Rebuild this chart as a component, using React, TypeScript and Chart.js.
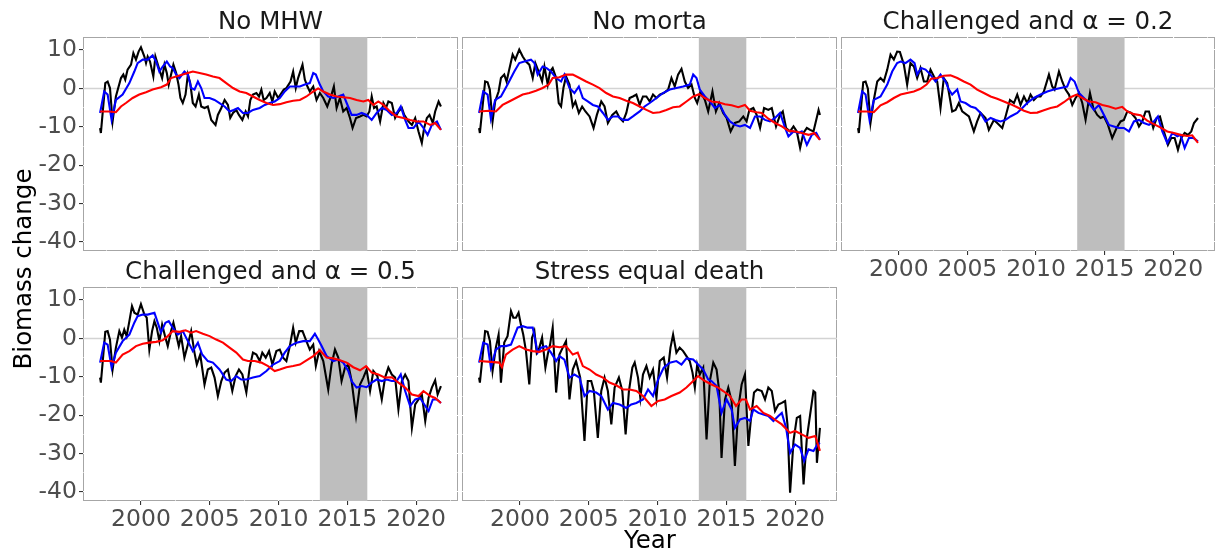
import React, { useEffect, useRef } from "react";
import { Chart, registerables } from "chart.js";

Chart.register(...registerables);

type Pt = [number, number];

// Scenario facet titles
const scenarioTitles = [
  "No MHW",
  "No morta",
  "Challenged and α = 0.2",
  "Challenged and α = 0.5",
  "Stress equal death",
];

// Axis ticks and ranges
const yearTicks = [2000, 2005, 2010, 2015, 2020];
const yearMinorTicks = [1997.5, 2002.5, 2007.5, 2012.5, 2017.5, 2022.5];
const biomassTicks = [-40, -30, -20, -10, 0, 10];
const biomassMinorTicks = [-35, -25, -15, -5, 5];
const yearRange = [1995.79, 2023.04];
const biomassRange = [-42.34, 13.39];
// Marine heatwave period (shaded)
const heatwavePeriod = [2013.0, 2016.45];

// ---- No MHW ----
const noMhwMonthly: Pt[] = [
  [1997.03, -10.3], [1997.09, -11.6], [1997.41, 1.4], [1997.58, 1.8], [1997.75, 0.1], [1997.94, -8.6], [1998.18, -2.1], [1998.55, 2.7], [1998.72, 3.6], [1998.86, 2.3],
  [1999.03, 4.9], [1999.28, 6.2], [1999.45, 9.2], [1999.64, 7.5], [1999.83, 9.6], [2000.0, 10.7], [2000.25, 8.3], [2000.37, 6.6], [2000.49, 8.3], [2000.66, 7.0],
  [2000.9, 3.1], [2001.05, 8.3], [2001.34, 4.9], [2001.54, 2.7], [2001.71, 6.2], [2001.88, 4.0], [2002.02, 1.0], [2002.19, 3.6], [2002.36, 6.2], [2002.56, 4.0],
  [2002.73, 1.0], [2002.87, -2.5], [2003.04, -3.8], [2003.24, -1.6], [2003.41, 3.6], [2003.58, 1.4], [2003.77, -3.8], [2003.97, -4.7], [2004.21, -1.6], [2004.38, -4.7],
  [2004.62, -5.1], [2004.86, -4.7], [2005.11, -8.2], [2005.42, -9.5], [2005.59, -6.9], [2005.84, -5.1], [2006.08, -3.0], [2006.32, -4.3], [2006.49, -7.7], [2006.69, -6.4],
  [2006.93, -5.6], [2007.12, -6.9], [2007.37, -8.2], [2007.61, -6.0], [2007.78, -7.3], [2007.95, -3.0], [2008.14, -1.6], [2008.39, -1.2], [2008.58, -2.1], [2008.75, -0.3],
  [2008.92, -3.0], [2009.12, -2.5], [2009.36, -1.2], [2009.55, -3.4], [2009.72, -0.8], [2009.97, -2.5], [2010.21, -1.2], [2010.38, -0.3], [2010.57, 0.1], [2010.87, 1.8],
  [2011.06, 4.4], [2011.25, 0.1], [2011.42, 2.7], [2011.74, 6.2], [2011.91, 2.3], [2012.1, 0.5], [2012.27, -0.8], [2012.52, 0.5], [2012.76, -3.0], [2013.0, -1.2],
  [2013.25, -2.5], [2013.54, -4.7], [2013.85, -1.6], [2014.02, 0.5], [2014.22, -5.1], [2014.46, -2.5], [2014.7, -6.0], [2014.95, -5.1], [2015.19, -7.7], [2015.38, -10.3],
  [2015.63, -7.7], [2015.92, -7.3], [2016.16, -6.9], [2016.4, -7.3], [2016.6, -6.0], [2016.77, -2.1], [2016.94, -5.1], [2017.13, -4.7], [2017.38, -8.6], [2017.62, -3.8],
  [2017.81, -5.1], [2017.98, -3.4], [2018.23, -3.8], [2018.47, -7.7], [2018.71, -6.0], [2018.96, -5.1], [2019.13, -6.9], [2019.44, -8.6], [2019.69, -9.5], [2019.93, -7.7],
  [2020.17, -11.2], [2020.41, -14.2], [2020.58, -10.3], [2020.78, -7.7], [2020.97, -6.9], [2021.21, -9.0], [2021.38, -6.0], [2021.63, -3.4], [2021.8, -4.7],
];
const noMhwAnnual: Pt[] = [
  [1997.03, -6.4], [1997.33, -0.8], [1997.58, -1.6], [1997.87, -8.2], [1998.18, -3.0], [1998.67, -1.6], [1999.16, 1.4], [1999.52, 4.4], [1999.76, 6.6], [2000.13, 7.5],
  [2000.49, 7.5], [2000.85, 8.6], [2001.1, 7.0], [2001.34, 4.4], [2001.58, 5.7], [2001.88, 7.0], [2002.12, 5.7], [2002.31, 5.3], [2002.56, 3.6], [2002.8, 2.7],
  [2003.16, 4.4], [2003.41, 3.6], [2003.65, 0.1], [2003.89, -0.3], [2004.14, 1.8], [2004.38, 0.1], [2004.62, -2.5], [2004.99, -2.5], [2005.35, -3.0], [2005.71, -3.8],
  [2006.08, -4.7], [2006.44, -6.0], [2006.74, -5.6], [2007.05, -5.1], [2007.41, -6.4], [2007.78, -6.4], [2008.14, -5.6], [2008.63, -5.1], [2009.0, -4.3], [2009.36, -3.8],
  [2009.72, -3.4], [2010.09, -2.5], [2010.45, -0.8], [2010.82, 0.5], [2011.18, 0.5], [2011.55, 0.5], [2011.91, 1.0], [2012.27, 1.4], [2012.52, 4.0], [2012.71, 3.6],
  [2013.0, 1.0], [2013.25, -0.8], [2013.61, -2.1], [2013.98, -2.5], [2014.34, -2.1], [2014.7, -1.6], [2014.95, -3.8], [2015.31, -6.9], [2015.67, -6.9], [2016.04, -6.4],
  [2016.4, -6.9], [2016.77, -8.2], [2017.13, -6.4], [2017.5, -5.1], [2017.86, -5.6], [2018.23, -6.9], [2018.59, -6.4], [2018.88, -4.7], [2019.2, -8.2], [2019.44, -10.3],
  [2019.81, -10.3], [2020.17, -8.6], [2020.53, -10.3], [2020.83, -12.1], [2021.14, -9.5], [2021.51, -8.6], [2021.8, -10.8],
];
const noMhwTrend: Pt[] = [
  [1997.03, -6.0], [1997.7, -6.0], [1998.18, -6.2], [1998.55, -4.7], [1998.91, -3.8], [1999.4, -2.5], [1999.88, -1.6], [2000.37, -1.0], [2000.85, -0.3], [2001.46, 0.3],
  [2001.88, 1.0], [2002.19, 2.7], [2002.56, 3.1], [2003.04, 3.6], [2003.41, 4.0], [2003.77, 4.4], [2004.26, 4.0], [2004.74, 3.6], [2005.23, 3.1], [2005.71, 2.7],
  [2006.2, 1.4], [2006.69, 0.1], [2007.17, -0.8], [2007.66, -1.2], [2008.14, -2.1], [2008.63, -3.0], [2009.12, -3.8], [2009.6, -4.3], [2010.09, -4.1], [2010.57, -3.6],
  [2011.06, -3.2], [2011.55, -3.0], [2012.03, -2.1], [2012.52, -0.8], [2012.88, 0.0], [2013.25, -0.8], [2013.73, -1.6], [2014.22, -2.1], [2014.7, -2.3], [2015.19, -2.5],
  [2015.67, -3.0], [2016.16, -3.4], [2016.52, -3.0], [2016.89, -4.3], [2017.25, -3.4], [2017.62, -4.3], [2018.1, -6.0], [2018.59, -7.3], [2019.08, -7.7], [2019.56, -8.2],
  [2020.05, -8.6], [2020.53, -8.6], [2021.02, -9.5], [2021.38, -9.0], [2021.8, -10.8],
];

// ---- No morta ----
const noMortaMonthly: Pt[] = [
  [1997.03, -10.3], [1997.09, -11.6], [1997.47, 1.8], [1997.65, 1.6], [1997.81, -0.3], [1998.01, -8.6], [1998.2, -3.4], [1998.45, -0.8], [1998.62, 2.7], [1998.86, 3.6],
  [1999.03, 1.8], [1999.22, 4.9], [1999.47, 8.8], [1999.66, 7.5], [1999.95, 10.1], [2000.2, 8.3], [2000.44, 7.0], [2000.68, 6.2], [2000.93, 2.7], [2001.12, 6.6],
  [2001.36, 4.4], [2001.61, 1.8], [2001.78, 5.7], [2002.02, 1.0], [2002.19, 4.4], [2002.38, 5.3], [2002.63, 2.7], [2002.82, -3.8], [2002.99, -4.7], [2003.16, 0.1],
  [2003.35, 3.1], [2003.6, 1.0], [2003.84, -4.7], [2004.03, -3.4], [2004.28, -6.4], [2004.52, -4.7], [2004.76, -6.0], [2005.06, -7.3], [2005.35, -10.3], [2005.59, -6.9],
  [2005.91, -3.4], [2006.15, -4.7], [2006.39, -9.0], [2006.71, -6.9], [2007.0, -6.0], [2007.24, -7.7], [2007.49, -8.6], [2007.73, -6.4], [2007.97, -2.5], [2008.21, -2.1],
  [2008.46, -1.6], [2008.7, -4.3], [2008.94, -2.1], [2009.19, -2.1], [2009.43, -3.4], [2009.67, -1.6], [2009.92, -2.5], [2010.16, -1.6], [2010.45, -1.2], [2010.77, -0.3],
  [2011.01, 2.7], [2011.25, 0.5], [2011.49, 3.6], [2011.74, 5.1], [2011.98, 1.8], [2012.22, 0.1], [2012.47, 1.0], [2012.71, -2.5], [2012.88, -3.8], [2013.12, -0.8],
  [2013.44, -3.0], [2013.68, -6.0], [2013.99, -0.8], [2014.24, -6.0], [2014.48, -3.8], [2014.77, -6.4], [2015.02, -7.7], [2015.31, -11.2], [2015.62, -9.0], [2015.94, -8.6],
  [2016.23, -7.3], [2016.47, -8.6], [2016.67, -5.6], [2016.96, -5.1], [2017.2, -6.9], [2017.45, -10.3], [2017.74, -5.1], [2018.05, -5.6], [2018.3, -5.1], [2018.61, -9.9],
  [2018.9, -6.9], [2019.1, -6.0], [2019.34, -10.3], [2019.63, -11.2], [2019.88, -9.9], [2020.12, -11.2], [2020.36, -15.5], [2020.6, -11.6], [2020.85, -10.3], [2021.09, -10.8],
  [2021.33, -11.2], [2021.53, -8.2], [2021.7, -5.6], [2021.8, -6.9],
];
const noMortaAnnual: Pt[] = [
  [1997.03, -6.4], [1997.33, -0.8], [1997.65, -1.6], [1997.89, -7.9], [1998.2, -3.0], [1998.62, -2.1], [1999.1, 1.0], [1999.59, 4.4], [1999.95, 6.6], [2000.32, 7.0],
  [2000.8, 7.5], [2001.05, 6.6], [2001.29, 3.6], [2001.65, 5.7], [2001.94, 5.3], [2002.26, 4.4], [2002.63, 2.7], [2002.99, 1.8], [2003.23, 3.6], [2003.6, 0.1],
  [2003.96, -1.2], [2004.28, 0.5], [2004.57, -2.5], [2004.93, -3.4], [2005.3, -4.3], [2005.66, -4.7], [2006.03, -6.4], [2006.39, -8.2], [2006.76, -7.3], [2007.12, -7.3],
  [2007.49, -8.2], [2007.85, -8.2], [2008.21, -7.3], [2008.7, -6.0], [2009.06, -4.7], [2009.43, -3.8], [2009.92, -2.5], [2010.4, -1.2], [2010.89, -0.3], [2011.37, 0.1],
  [2011.86, 0.5], [2012.34, 1.0], [2012.59, 3.6], [2012.83, 2.7], [2013.07, -0.3], [2013.44, -2.1], [2013.8, -3.4], [2014.17, -5.1], [2014.53, -4.3], [2014.9, -6.9],
  [2015.26, -8.6], [2015.62, -9.5], [2015.99, -9.9], [2016.35, -9.5], [2016.72, -10.3], [2017.08, -7.3], [2017.45, -7.3], [2017.81, -8.2], [2018.17, -8.6], [2018.54, -7.7],
  [2018.9, -6.4], [2019.27, -10.3], [2019.51, -12.5], [2019.88, -11.2], [2020.24, -11.6], [2020.48, -11.2], [2020.85, -14.7], [2021.21, -12.1], [2021.53, -11.6], [2021.8, -13.4],
];
const noMortaTrend: Pt[] = [
  [1997.03, -6.0], [1997.77, -5.8], [1998.25, -6.0], [1998.74, -4.3], [1999.22, -3.4], [1999.71, -2.5], [2000.2, -1.6], [2000.68, -1.2], [2001.17, -0.6], [2001.65, 0.1],
  [2002.09, 1.0], [2002.38, 2.7], [2002.87, 2.9], [2003.35, 3.6], [2003.84, 3.6], [2004.33, 2.7], [2004.81, 1.8], [2005.3, 1.0], [2005.78, 0.1], [2006.27, -1.2],
  [2006.76, -2.1], [2007.24, -2.5], [2007.73, -3.2], [2008.21, -3.8], [2008.7, -4.7], [2009.19, -5.6], [2009.67, -6.4], [2010.16, -6.2], [2010.64, -5.6], [2011.13, -4.9],
  [2011.61, -4.7], [2012.1, -3.4], [2012.59, -2.1], [2013.02, -1.5], [2013.44, -2.5], [2013.92, -3.4], [2014.41, -3.6], [2014.9, -4.1], [2015.38, -4.4], [2015.87, -4.9],
  [2016.35, -4.3], [2016.72, -5.8], [2017.2, -6.2], [2017.57, -6.4], [2018.05, -7.9], [2018.54, -9.0], [2019.03, -9.9], [2019.51, -11.0], [2020.0, -11.2], [2020.48, -11.6],
  [2020.97, -12.1], [2021.38, -11.6], [2021.8, -13.4],
];

// ---- Challenged and alpha = 0.2 ----
const alpha02Monthly: Pt[] = [
  [1997.03, -10.3], [1997.09, -11.6], [1997.41, 1.6], [1997.58, 1.8], [1997.75, -0.1], [1997.94, -9.0], [1998.18, -3.0], [1998.43, 1.8], [1998.67, 2.7], [1998.91, 1.8],
  [1999.16, 4.9], [1999.4, 8.8], [1999.64, 7.5], [1999.88, 9.6], [2000.08, 9.5], [2000.37, 6.2], [2000.61, 1.0], [2000.85, 6.6], [2001.1, 5.7], [2001.34, 2.7],
  [2001.58, 5.3], [2001.83, 1.8], [2002.07, 1.8], [2002.31, 4.9], [2002.56, 3.1], [2002.8, 1.8], [2003.04, -5.1], [2003.28, 2.7], [2003.53, 1.4], [2003.89, -6.0],
  [2004.14, -5.6], [2004.38, -3.8], [2004.62, -6.0], [2005.11, -7.3], [2005.47, -11.2], [2005.71, -8.6], [2005.96, -6.4], [2006.32, -7.7], [2006.56, -10.8], [2006.93, -8.2],
  [2007.17, -9.0], [2007.54, -10.3], [2007.78, -7.3], [2008.1, -3.0], [2008.39, -3.8], [2008.63, -1.6], [2008.87, -4.3], [2009.12, -2.1], [2009.36, -3.8], [2009.6, -1.6],
  [2009.84, -3.0], [2010.09, -2.1], [2010.33, -2.1], [2010.57, -0.8], [2010.94, 3.6], [2011.18, 0.5], [2011.35, -0.3], [2011.67, 4.4], [2011.91, 1.8], [2012.15, -0.3],
  [2012.4, -1.6], [2012.64, -4.3], [2012.88, -2.5], [2013.13, -1.2], [2013.37, -3.8], [2013.61, -8.2], [2013.93, -1.2], [2014.17, -5.1], [2014.46, -6.9], [2014.7, -7.7],
  [2014.95, -7.3], [2015.24, -9.5], [2015.55, -12.9], [2015.87, -10.3], [2016.16, -8.6], [2016.4, -8.2], [2016.65, -6.0], [2016.94, -6.4], [2017.25, -7.7], [2017.5, -9.9],
  [2017.74, -8.6], [2017.98, -6.0], [2018.23, -6.0], [2018.54, -10.3], [2018.79, -7.7], [2019.03, -7.3], [2019.32, -11.2], [2019.61, -14.7], [2019.85, -12.9], [2020.1, -12.9],
  [2020.34, -16.0], [2020.58, -12.9], [2020.83, -11.6], [2021.07, -12.1], [2021.31, -11.2], [2021.51, -9.0], [2021.8, -7.7],
];
const alpha02Annual: Pt[] = [
  [1997.03, -6.4], [1997.33, -0.8], [1997.58, -1.6], [1997.87, -8.2], [1998.18, -3.0], [1998.67, -2.1], [1999.16, 1.0], [1999.52, 4.4], [1999.88, 6.6], [2000.13, 7.0],
  [2000.49, 6.6], [2000.85, 7.5], [2001.15, 6.6], [2001.34, 3.6], [2001.63, 5.3], [2001.95, 4.9], [2002.31, 3.6], [2002.68, 1.8], [2003.04, 3.6], [2003.41, 1.8],
  [2003.65, -0.3], [2003.89, -1.6], [2004.26, -0.3], [2004.5, -3.4], [2004.86, -3.8], [2005.23, -4.7], [2005.59, -5.1], [2005.96, -6.4], [2006.32, -8.6], [2006.69, -7.7],
  [2007.05, -8.2], [2007.41, -8.6], [2007.78, -8.2], [2008.14, -7.3], [2008.63, -6.4], [2009.0, -5.1], [2009.36, -3.8], [2009.84, -2.5], [2010.33, -1.6], [2010.82, -0.8],
  [2011.3, -0.3], [2011.79, 0.1], [2012.27, 0.5], [2012.52, 2.7], [2012.81, 1.8], [2013.13, -1.2], [2013.49, -2.5], [2013.85, -3.8], [2014.22, -5.6], [2014.58, -4.3],
  [2014.95, -6.9], [2015.31, -9.5], [2015.67, -9.9], [2016.04, -10.3], [2016.4, -10.3], [2016.77, -11.2], [2017.13, -8.6], [2017.5, -8.2], [2017.86, -9.0], [2018.23, -9.5],
  [2018.59, -8.6], [2018.88, -7.3], [2019.2, -11.2], [2019.56, -14.2], [2019.93, -11.6], [2020.29, -12.5], [2020.53, -12.1], [2020.83, -15.5], [2021.14, -12.9], [2021.46, -12.9],
  [2021.8, -13.8],
];
const alpha02Trend: Pt[] = [
  [1997.03, -6.0], [1997.7, -6.0], [1998.18, -6.2], [1998.67, -4.4], [1999.16, -3.6], [1999.64, -2.5], [2000.13, -1.6], [2000.61, -1.2], [2001.1, -0.8], [2001.58, -0.1],
  [2002.02, 1.0], [2002.36, 2.5], [2002.8, 2.7], [2003.28, 3.3], [2003.77, 3.4], [2004.26, 2.7], [2004.74, 1.8], [2005.23, 1.0], [2005.71, -0.3], [2006.2, -1.2],
  [2006.69, -2.1], [2007.17, -2.7], [2007.66, -3.4], [2008.14, -4.1], [2008.63, -4.9], [2009.12, -5.8], [2009.6, -6.4], [2010.09, -6.3], [2010.57, -5.7], [2011.06, -5.1],
  [2011.55, -4.7], [2012.03, -3.6], [2012.52, -2.3], [2012.95, -1.6], [2013.37, -2.5], [2013.85, -3.4], [2014.34, -3.6], [2014.83, -4.3], [2015.31, -4.7], [2015.8, -5.3],
  [2016.28, -4.8], [2016.65, -6.0], [2017.13, -6.7], [2017.62, -7.0], [2018.1, -8.4], [2018.59, -9.3], [2019.08, -10.2], [2019.56, -11.2], [2020.05, -11.6], [2020.53, -12.1],
  [2021.02, -12.4], [2021.38, -12.2], [2021.8, -14.2],
];

// ---- Challenged and alpha = 0.5 ----
const alpha05Monthly: Pt[] = [
  [1997.03, -10.2], [1997.09, -11.5], [1997.41, 1.7], [1997.58, 1.9], [1997.75, -0.3], [1997.94, -8.1], [1998.18, -2.4], [1998.43, 1.9], [1998.62, 0.2], [1998.79, 2.3],
  [1998.96, 0.6], [1999.16, 4.5], [1999.35, 8.4], [1999.52, 6.7], [1999.76, 6.2], [2000.0, 8.9], [2000.25, 6.2], [2000.42, 5.4], [2000.61, -2.9], [2000.81, 1.9],
  [2000.98, 4.5], [2001.15, 2.8], [2001.34, -0.7], [2001.54, 3.6], [2001.75, 0.6], [2001.95, -2.0], [2002.19, 1.9], [2002.36, 4.1], [2002.56, 1.0], [2002.75, -2.0],
  [2002.92, 0.6], [2003.16, -5.0], [2003.41, -1.6], [2003.65, 1.9], [2003.89, -3.7], [2004.06, -6.8], [2004.31, -4.2], [2004.62, -12.0], [2004.86, -8.1], [2005.11, -7.6],
  [2005.35, -10.2], [2005.59, -15.0], [2005.84, -11.1], [2006.08, -8.9], [2006.32, -8.1], [2006.64, -13.7], [2006.88, -9.8], [2007.12, -8.1], [2007.37, -9.4], [2007.66, -14.1],
  [2007.9, -7.6], [2008.14, -3.7], [2008.39, -4.2], [2008.63, -5.9], [2008.82, -3.7], [2009.07, -5.0], [2009.31, -3.3], [2009.55, -6.8], [2009.84, -3.3], [2010.09, -2.9],
  [2010.33, -5.0], [2010.57, -5.9], [2010.82, -2.0], [2011.06, 2.8], [2011.25, -1.1], [2011.5, 1.9], [2011.74, 1.9], [2011.98, -0.3], [2012.27, -2.9], [2012.52, -1.6],
  [2012.71, -7.2], [2012.95, -3.3], [2013.25, -5.9], [2013.61, -13.3], [2013.85, -6.8], [2014.1, -2.9], [2014.34, -5.0], [2014.58, -11.1], [2014.83, -7.6], [2015.07, -6.8],
  [2015.31, -11.1], [2015.63, -20.2], [2015.92, -12.0], [2016.16, -10.2], [2016.4, -8.1], [2016.65, -13.7], [2016.89, -8.5], [2017.18, -9.8], [2017.5, -15.9], [2017.74, -10.2],
  [2017.98, -7.6], [2018.23, -9.4], [2018.47, -10.2], [2018.71, -18.5], [2018.96, -11.1], [2019.2, -9.4], [2019.44, -11.1], [2019.69, -23.3], [2019.93, -17.2], [2020.17, -15.9],
  [2020.41, -14.6], [2020.66, -21.5], [2020.9, -15.5], [2021.14, -12.8], [2021.38, -10.9], [2021.56, -14.6], [2021.8, -12.4],
];
const alpha05Annual: Pt[] = [
  [1997.03, -6.3], [1997.33, -1.1], [1997.58, -1.6], [1997.87, -7.6], [1998.18, -3.7], [1998.67, -0.7], [1999.16, 1.0], [1999.52, 4.1], [1999.76, 5.8], [2000.13, 6.2],
  [2000.49, 6.2], [2000.98, 6.7], [2001.22, 4.1], [2001.46, 1.5], [2001.78, 4.1], [2002.02, 4.5], [2002.31, 2.8], [2002.68, 1.0], [2003.04, 1.9], [2003.41, -0.7],
  [2003.77, -3.3], [2004.14, -1.1], [2004.45, -4.2], [2004.86, -5.9], [2005.23, -6.3], [2005.71, -8.1], [2006.2, -10.7], [2006.56, -11.1], [2006.93, -9.8], [2007.29, -10.7],
  [2007.66, -10.7], [2008.14, -10.2], [2008.63, -9.8], [2009.12, -8.5], [2009.6, -6.8], [2010.09, -5.9], [2010.45, -3.7], [2010.82, -2.0], [2011.3, -1.1], [2011.79, -0.7],
  [2012.27, -0.7], [2012.64, 1.2], [2012.88, -0.3], [2013.13, -2.0], [2013.49, -4.6], [2013.98, -5.9], [2014.34, -5.5], [2014.7, -6.3], [2015.07, -8.5], [2015.31, -11.1],
  [2015.67, -12.8], [2016.04, -12.4], [2016.4, -12.7], [2016.77, -11.5], [2017.13, -10.7], [2017.5, -11.1], [2017.86, -10.7], [2018.23, -11.1], [2018.59, -11.1], [2018.88, -9.4],
  [2019.2, -13.7], [2019.56, -17.6], [2019.93, -15.9], [2020.29, -15.5], [2020.66, -17.6], [2020.9, -18.9], [2021.21, -15.9], [2021.51, -15.9], [2021.8, -16.8],
];
const alpha05Trend: Pt[] = [
  [1997.03, -5.9], [1997.82, -5.9], [1998.18, -6.3], [1998.67, -4.2], [1999.16, -3.3], [1999.64, -2.0], [2000.13, -1.4], [2000.61, -1.1], [2001.1, -0.9], [2001.58, -0.5],
  [2001.95, 0.6], [2002.31, 1.9], [2002.8, 1.7], [2003.24, 2.1], [2003.65, 1.5], [2004.01, 1.9], [2004.5, 1.2], [2004.99, 0.6], [2005.47, -0.3], [2005.96, -1.1],
  [2006.44, -2.4], [2006.93, -3.7], [2007.41, -5.5], [2007.78, -5.9], [2008.27, -5.9], [2008.75, -6.3], [2009.24, -7.2], [2009.72, -8.5], [2010.09, -8.1], [2010.57, -7.5],
  [2011.06, -7.2], [2011.55, -6.8], [2012.03, -5.7], [2012.52, -4.6], [2013.0, -3.1], [2013.49, -5.0], [2013.98, -5.2], [2014.46, -5.7], [2014.95, -6.3], [2015.43, -7.5],
  [2015.92, -8.3], [2016.36, -7.2], [2016.77, -8.9], [2017.25, -9.4], [2017.74, -10.2], [2018.23, -10.1], [2018.71, -11.5], [2019.2, -12.8], [2019.69, -14.6], [2020.17, -15.0],
  [2020.53, -13.7], [2021.02, -15.0], [2021.38, -15.5], [2021.8, -16.8],
];

// ---- Stress equal death ----
const stressMonthly: Pt[] = [
  [1997.03, -10.2], [1997.09, -11.5], [1997.47, 1.9], [1997.65, 1.7], [1997.82, -0.7], [1998.01, -8.5], [1998.25, -2.4], [1998.45, 1.0], [1998.62, -11.5], [1998.86, -1.1],
  [1999.1, 0.6], [1999.35, 7.1], [1999.52, 5.4], [1999.71, 5.4], [1999.9, 6.7], [2000.07, 3.6], [2000.24, 1.0], [2000.44, -3.3], [2000.68, -12.0], [2000.88, 0.2],
  [2001.05, 1.9], [2001.22, -3.7], [2001.41, -2.4], [2001.61, 0.2], [2001.85, -7.6], [2002.02, -4.2], [2002.19, -1.6], [2002.38, 2.8], [2002.63, -14.1], [2002.87, -4.2],
  [2003.11, -2.4], [2003.35, -0.7], [2003.6, -15.9], [2003.84, -8.1], [2004.08, -5.9], [2004.38, -10.2], [2004.69, -26.7], [2004.93, -11.1], [2005.18, -11.1], [2005.37, -13.7],
  [2005.66, -25.9], [2005.91, -13.7], [2006.15, -10.2], [2006.39, -13.7], [2006.64, -22.4], [2006.88, -12.8], [2007.19, -10.2], [2007.44, -13.7], [2007.68, -25.0], [2007.92, -13.7],
  [2008.17, -7.6], [2008.34, -6.3], [2008.58, -10.2], [2008.75, -15.5], [2008.94, -9.4], [2009.19, -7.2], [2009.43, -10.2], [2009.67, -8.1], [2009.92, -15.5], [2010.16, -5.9],
  [2010.45, -5.0], [2010.69, -10.2], [2010.94, -2.4], [2011.13, 1.0], [2011.37, -3.7], [2011.61, -2.4], [2011.86, -3.3], [2012.1, -4.6], [2012.34, -5.9], [2012.54, -8.9],
  [2012.71, -12.8], [2012.88, -6.8], [2013.07, -9.4], [2013.32, -7.6], [2013.56, -26.3], [2013.8, -11.1], [2014.05, -6.3], [2014.29, -8.1], [2014.48, -13.7], [2014.65, -31.1],
  [2014.9, -15.9], [2015.14, -12.8], [2015.38, -16.3], [2015.62, -33.2], [2015.87, -18.1], [2016.11, -12.0], [2016.35, -9.4], [2016.6, -28.0], [2016.77, -21.5], [2017.01, -14.1],
  [2017.25, -13.3], [2017.57, -13.7], [2017.81, -15.9], [2018.05, -12.8], [2018.3, -13.7], [2018.54, -18.9], [2018.78, -17.2], [2019.03, -16.8], [2019.27, -16.3], [2019.44, -22.4],
  [2019.63, -40.2], [2019.88, -26.7], [2020.12, -20.7], [2020.36, -20.2], [2020.61, -38.0], [2020.85, -25.9], [2021.09, -19.8], [2021.33, -13.7], [2021.46, -14.1], [2021.58, -32.4],
  [2021.8, -23.3],
];
const stressAnnual: Pt[] = [
  [1997.03, -6.3], [1997.33, -1.1], [1997.65, -1.6], [1997.89, -7.6], [1998.25, -2.9], [1998.62, -2.0], [1998.98, -2.0], [1999.35, -1.6], [1999.59, 0.6], [1999.83, 2.8],
  [2000.2, 3.2], [2000.56, 2.8], [2000.93, 2.8], [2001.29, -3.7], [2001.53, -2.4], [2001.9, -2.0], [2002.26, -3.7], [2002.63, -5.9], [2002.87, -4.6], [2003.23, -5.5],
  [2003.6, -10.2], [2003.96, -9.4], [2004.33, -10.2], [2004.69, -15.0], [2005.06, -13.7], [2005.54, -14.1], [2005.91, -15.0], [2006.39, -18.5], [2006.76, -16.8], [2007.24, -17.2],
  [2007.73, -18.1], [2008.09, -17.2], [2008.46, -16.8], [2008.94, -15.9], [2009.31, -13.3], [2009.67, -15.0], [2010.04, -10.7], [2010.45, -7.6], [2010.89, -6.3], [2011.37, -5.9],
  [2011.74, -6.8], [2012.1, -5.2], [2012.59, -5.5], [2012.95, -6.8], [2013.32, -8.1], [2013.68, -10.7], [2013.92, -11.1], [2014.29, -12.4], [2014.65, -19.4], [2015.02, -15.9],
  [2015.38, -18.5], [2015.62, -23.3], [2015.99, -21.1], [2016.35, -20.7], [2016.72, -21.5], [2016.96, -18.5], [2017.33, -19.4], [2017.69, -19.8], [2018.05, -20.2], [2018.42, -21.5],
  [2018.78, -20.2], [2019.03, -19.4], [2019.34, -23.3], [2019.63, -29.8], [2019.99, -27.6], [2020.36, -28.5], [2020.65, -31.9], [2020.97, -28.9], [2021.33, -29.3], [2021.62, -27.6],
  [2021.8, -27.2],
];
const stressTrend: Pt[] = [
  [1997.03, -5.9], [1997.89, -6.1], [1998.5, -6.3], [1998.69, -7.5], [1998.98, -4.2], [1999.47, -2.9], [1999.95, -2.0], [2000.44, -2.9], [2000.93, -3.3], [2001.41, -3.5],
  [2001.9, -2.9], [2002.38, -2.0], [2002.87, -2.3], [2003.35, -2.0], [2003.84, -4.2], [2004.2, -3.7], [2004.57, -7.2], [2005.06, -8.1], [2005.54, -9.4], [2006.03, -10.2],
  [2006.51, -11.5], [2007.0, -12.2], [2007.49, -13.3], [2007.97, -13.3], [2008.46, -13.7], [2008.94, -15.0], [2009.55, -17.6], [2010.04, -16.3], [2010.52, -15.9], [2011.01, -15.0],
  [2011.61, -14.1], [2012.1, -12.8], [2012.59, -11.1], [2012.95, -9.8], [2013.44, -11.1], [2013.92, -12.0], [2014.41, -12.8], [2014.77, -13.7], [2015.26, -15.0], [2015.7, -17.6],
  [2016.11, -15.9], [2016.42, -15.9], [2016.72, -18.5], [2017.2, -17.6], [2017.69, -19.4], [2018.17, -20.2], [2018.66, -21.5], [2019.03, -22.4], [2019.63, -24.6], [2019.99, -24.1],
  [2020.48, -25.0], [2020.97, -25.9], [2021.46, -25.4], [2021.8, -29.3],
];

const scenarioSeries = [
  { monthly: noMhwMonthly, annual: noMhwAnnual, trend: noMhwTrend },
  { monthly: noMortaMonthly, annual: noMortaAnnual, trend: noMortaTrend },
  { monthly: alpha02Monthly, annual: alpha02Annual, trend: alpha02Trend },
  { monthly: alpha05Monthly, annual: alpha05Annual, trend: alpha05Trend },
  { monthly: stressMonthly, annual: stressAnnual, trend: stressTrend },
];

// Facet placement on the page
const panelBoxes = [
  { left: 83, top: 37, right: 458, bottom: 251, yAxis: true, xAxis: false },
  { left: 462, top: 37, right: 837, bottom: 251, yAxis: false, xAxis: false },
  { left: 841, top: 37, right: 1215, bottom: 251, yAxis: false, xAxis: true },
  { left: 83, top: 287, right: 458, bottom: 501, yAxis: true, xAxis: true },
  { left: 462, top: 287, right: 837, bottom: 501, yAxis: false, xAxis: true },
];

const FONT = '"DejaVu Sans", Verdana, sans-serif';
const TICK_SIZE = 23.5;
const TITLE_SIZE = 24.5;

const toXY = (pts: Pt[]) => pts.map(([x, y]) => ({ x, y }));

const panelDecor = {
  id: "panelDecor",
  beforeDraw(chart: any) {
    const { ctx, chartArea: a } = chart;
    ctx.save();
    ctx.fillStyle = "#FFFFFF";
    ctx.fillRect(a.left, a.top, a.right - a.left, a.bottom - a.top);
    ctx.strokeStyle = "#A6A6A6";
    ctx.lineWidth = 1;
    ctx.strokeRect(a.left + 0.5, a.top + 0.5, a.right - a.left - 1, a.bottom - a.top - 1);
    ctx.restore();
  },
  beforeDatasetsDraw(chart: any) {
    const { ctx, chartArea: a, scales } = chart;
    ctx.save();
    const y0 = scales.y.getPixelForValue(0);
    ctx.strokeStyle = "#D3D3D3";
    ctx.lineWidth = 1.5;
    ctx.beginPath();
    ctx.moveTo(a.left, y0);
    ctx.lineTo(a.right, y0);
    ctx.stroke();
    const x1 = scales.x.getPixelForValue(heatwavePeriod[0]);
    const x2 = scales.x.getPixelForValue(heatwavePeriod[1]);
    ctx.fillStyle = "#BEBEBE";
    ctx.fillRect(x1, a.top, x2 - x1, a.bottom - a.top);
    ctx.restore();
  },
};

const noScalePadding = (axis: any) => {
  axis.paddingTop = 0;
  axis.paddingBottom = 0;
  axis.paddingLeft = 0;
  axis.paddingRight = 0;
};

function Panel({ index }: { index: number }) {
  const ref = useRef<HTMLCanvasElement>(null);
  const box = panelBoxes[index];
  const series = scenarioSeries[index];
  const axisW = box.yAxis ? 82 : 2;
  const axisH = box.xAxis ? 44 : 2;
  const padTop = 4;
  const w = box.right - box.left + axisW;
  const h = box.bottom - box.top + padTop + axisH;

  useEffect(() => {
    const isMajorYear = (v: number) => yearTicks.includes(v);
    const isMajorBio = (v: number) => biomassTicks.includes(v);
    const line = (pts: Pt[], color: string, order: number) => ({
      data: toXY(pts),
      borderColor: color,
      backgroundColor: color,
      borderWidth: 2.1,
      pointRadius: 0,
      tension: 0,
      fill: false,
      order,
    });
    const chart = new Chart(ref.current as HTMLCanvasElement, {
      type: "line",
      data: {
        datasets: [
          line(series.monthly, "#000000", 3),
          line(series.annual, "#0000FF", 2),
          line(series.trend, "#FF0000", 1),
        ],
      },
      options: {
        animation: false,
        responsive: false,
        maintainAspectRatio: false,
        events: [],
        layout: { padding: { top: padTop, right: 0, left: 0, bottom: 0 } },
        plugins: {
          legend: { display: false },
          tooltip: { enabled: false },
          title: { display: false },
        },
        scales: {
          x: {
            type: "linear",
            min: yearRange[0],
            max: yearRange[1],
            afterBuildTicks: (axis: any) => {
              axis.ticks = [...yearMinorTicks, ...yearTicks]
                .sort((a, b) => a - b)
                .map((v) => ({ value: v }));
            },
            afterFit: (axis: any) => {
              axis.height = axisH;
              noScalePadding(axis);
            },
            border: { display: false },
            grid: {
              color: "#FFFFFF",
              lineWidth: (c: any) => (isMajorYear(c.tick?.value) ? 1.1 : 0.6),
              drawTicks: box.xAxis,
              tickLength: 4,
              tickWidth: 1.1,
              tickColor: (c: any) => (isMajorYear(c.tick?.value) ? "#333333" : "rgba(0,0,0,0)"),
            },
            ticks: {
              display: box.xAxis,
              autoSkip: false,
              maxRotation: 0,
              minRotation: 0,
              padding: 1,
              color: "#4D4D4D",
              font: { family: FONT, size: TICK_SIZE },
              callback: (v: any) => (isMajorYear(v) ? String(v) : ""),
            },
          },
          y: {
            type: "linear",
            min: biomassRange[0],
            max: biomassRange[1],
            afterBuildTicks: (axis: any) => {
              axis.ticks = [...biomassMinorTicks, ...biomassTicks]
                .sort((a, b) => a - b)
                .map((v) => ({ value: v }));
            },
            afterFit: (axis: any) => {
              axis.width = axisW;
              noScalePadding(axis);
            },
            border: { display: false },
            grid: {
              color: "#FFFFFF",
              lineWidth: (c: any) => (isMajorBio(c.tick?.value) ? 1.1 : 0.6),
              drawTicks: box.yAxis,
              tickLength: 4,
              tickWidth: 1.1,
              tickColor: (c: any) => (isMajorBio(c.tick?.value) ? "#333333" : "rgba(0,0,0,0)"),
            },
            ticks: {
              display: box.yAxis,
              autoSkip: false,
              padding: 2,
              color: "#4D4D4D",
              font: { family: FONT, size: TICK_SIZE },
              callback: (v: any) => (isMajorBio(v) ? String(v) : ""),
            },
          },
        },
      },
      plugins: [panelDecor],
    } as any);
    return () => chart.destroy();
  }, []);

  return (
    <>
      <canvas
        ref={ref}
        width={w}
        height={h}
        style={{ position: "absolute", left: box.left - axisW, top: box.top - padTop, width: w, height: h }}
      />
      <div
        style={{
          position: "absolute",
          left: box.left,
          width: box.right - box.left,
          top: box.top - 31,
          height: 30,
          lineHeight: "30px",
          textAlign: "center",
          fontFamily: FONT,
          fontSize: TITLE_SIZE,
          color: "#1A1A1A",
          whiteSpace: "nowrap",
        }}
      >
        {scenarioTitles[index]}
      </div>
    </>
  );
}

export default function App() {
  return (
    <div
      style={{
        position: "absolute",
        left: 0,
        top: 0,
        width: 1215,
        height: 556,
        overflow: "hidden",
        background: "#FFFFFF",
      }}
    >
      {panelBoxes.map((_, i) => (
        <Panel key={i} index={i} />
      ))}
      <div
        style={{
          position: "absolute",
          left: 22.7 - 200,
          top: 269 - 15,
          width: 400,
          height: 30,
          lineHeight: "30px",
          textAlign: "center",
          fontFamily: FONT,
          fontSize: TITLE_SIZE,
          color: "#000000",
          transform: "rotate(-90deg)",
          whiteSpace: "nowrap",
        }}
      >
        Biomass change
      </div>
      <div
        style={{
          position: "absolute",
          left: 450,
          top: 525,
          width: 400,
          height: 30,
          lineHeight: "30px",
          textAlign: "center",
          fontFamily: FONT,
          fontSize: TITLE_SIZE,
          color: "#000000",
          whiteSpace: "nowrap",
        }}
      >
        Year
      </div>
    </div>
  );
}
